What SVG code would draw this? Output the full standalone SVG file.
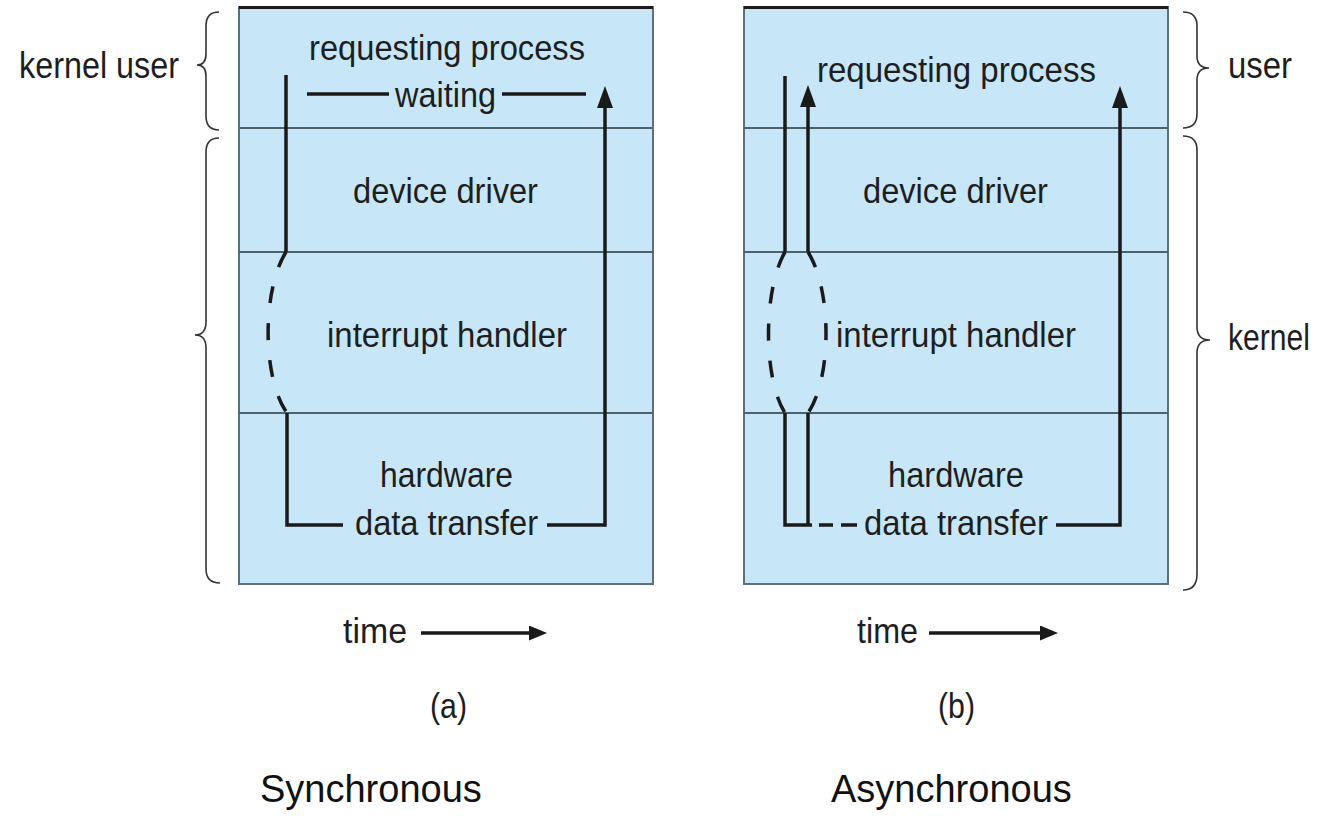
<svg xmlns="http://www.w3.org/2000/svg" width="1327" height="830" viewBox="0 0 1327 830">
<defs>
<style>
.box{fill:#c7e7f8;stroke:#5d6f78;stroke-width:2}
.top{stroke:#1b1b1b;stroke-width:3}
.div{stroke:#4e626c;stroke-width:2}
.t{font-family:"Liberation Sans",Arial,Helvetica,sans-serif;font-size:35px;fill:#1e1e1e}
.side{font-family:"Liberation Sans",Arial,Helvetica,sans-serif;font-size:36px;fill:#1e1e1e}
.cap{font-family:"Liberation Sans",Arial,Helvetica,sans-serif;font-size:38px;fill:#111}
.ln{fill:none;stroke:#1a1a1a;stroke-width:3.5}
.dash{fill:none;stroke:#1a1a1a;stroke-width:3.5;stroke-dasharray:17 20}
.brace{fill:none;stroke:#333;stroke-width:1.6}
</style>
<marker id="ah" markerUnits="userSpaceOnUse" markerWidth="24" markerHeight="16" refX="0" refY="8" orient="auto" viewBox="0 0 24 16">
<path d="M0,0 L22,8 L0,16 z" fill="#1a1a1a"/>
</marker>
<marker id="ahs" markerUnits="userSpaceOnUse" markerWidth="19" markerHeight="15" refX="0" refY="7.5" orient="auto" viewBox="0 0 19 15">
<path d="M0,0 L18,7.5 L0,15 z" fill="#1a1a1a"/>
</marker>
</defs>
<rect width="1327" height="830" fill="#ffffff"/>

<g id="panel-a">
<rect class="box" x="239" y="7" width="414" height="577"/>
<line class="top" x1="239" y1="7.5" x2="653" y2="7.5"/>
<line class="div" x1="239" y1="128" x2="653" y2="128"/>
<line class="div" x1="239" y1="252" x2="653" y2="252"/>
<line class="div" x1="239" y1="413" x2="653" y2="413"/>
</g>
<g id="a-requesting"><text class="t" x="309" y="60" textLength="276" lengthAdjust="spacingAndGlyphs">requesting process</text>
<text class="t" x="395" y="107" textLength="101" lengthAdjust="spacingAndGlyphs">waiting</text></g>
<g id="a-driver"><text class="t" x="353" y="203" textLength="185" lengthAdjust="spacingAndGlyphs">device driver</text></g>
<g id="a-interrupt"><text class="t" x="327" y="347" textLength="240" lengthAdjust="spacingAndGlyphs">interrupt handler</text></g>
<g id="a-hardware"><text class="t" x="380" y="487" textLength="133" lengthAdjust="spacingAndGlyphs">hardware</text>
<text class="t" x="355" y="535" textLength="183" lengthAdjust="spacingAndGlyphs">data transfer</text></g>
<g id="a-labels">
<text class="side" x="19" y="78" textLength="160" lengthAdjust="spacingAndGlyphs">kernel user</text>
<path class="brace" d="M219,12 Q206,12 206,26 L206,54 Q206,65 197,65 Q206,65 206,76 L206,116 Q206,130 219,130"/>
<path class="brace" d="M219,138 Q206,138 206,152 L206,322 Q206,335 195,335 Q206,335 206,348 L206,569 Q206,583 220,583"/>
<text class="t" x="343" y="643" textLength="64" lengthAdjust="spacingAndGlyphs">time</text>
<text class="t" x="430" y="718" textLength="37" lengthAdjust="spacingAndGlyphs">(a)</text>
<text class="cap" x="260" y="802">Synchronous</text>
</g>

<g id="panel-b">
<rect class="box" x="744" y="7" width="424" height="577"/>
<line class="top" x1="744" y1="7.5" x2="1168" y2="7.5"/>
<line class="div" x1="744" y1="128" x2="1168" y2="128"/>
<line class="div" x1="744" y1="252" x2="1168" y2="252"/>
<line class="div" x1="744" y1="413" x2="1168" y2="413"/>
</g>
<g id="b-requesting"><text class="t" x="817" y="82" textLength="279" lengthAdjust="spacingAndGlyphs">requesting process</text></g>
<g id="b-driver"><text class="t" x="863" y="203" textLength="185" lengthAdjust="spacingAndGlyphs">device driver</text></g>
<g id="b-interrupt"><text class="t" x="836" y="347" textLength="240" lengthAdjust="spacingAndGlyphs">interrupt handler</text></g>
<g id="b-hardware"><text class="t" x="888" y="487" textLength="136" lengthAdjust="spacingAndGlyphs">hardware</text>
<text class="t" x="864" y="535" textLength="184" lengthAdjust="spacingAndGlyphs">data transfer</text></g>
<g id="b-labels">
<text class="side" x="1228" y="78" textLength="64" lengthAdjust="spacingAndGlyphs">user</text>
<path class="brace" d="M1183,12 Q1197,12 1197,26 L1197,56 Q1197,68 1209,68 Q1197,68 1197,80 L1197,114 Q1197,128 1183,128"/>
<path class="brace" d="M1183,136 Q1197,136 1197,150 L1197,327 Q1197,340 1210,340 Q1197,340 1197,353 L1197,574 Q1197,590 1183,590"/>
<text class="side" x="1228" y="350" textLength="82" lengthAdjust="spacingAndGlyphs">kernel</text>
<text class="t" x="857" y="643" textLength="61" lengthAdjust="spacingAndGlyphs">time</text>
<text class="t" x="938" y="718" textLength="37" lengthAdjust="spacingAndGlyphs">(b)</text>
<text class="cap" x="831" y="802">Asynchronous</text>
</g>

<g id="connectors">
<line class="ln" x1="307" y1="94" x2="389" y2="94"/>
<line class="ln" x1="502" y1="94" x2="586" y2="94"/>
<path class="ln" d="M286,75 V252"/>
<path class="dash" d="M286,252 C262,290 262,378 287,413"/>
<path class="ln" d="M287,413 V525 H343"/>
<path class="ln" d="M547,525 H605 V108" marker-end="url(#ah)"/>
<line class="ln" x1="421" y1="633" x2="529" y2="633" marker-end="url(#ahs)"/>

<path class="ln" d="M785,76 V252"/>
<path class="ln" d="M808,252 V107" marker-end="url(#ah)"/>
<path class="dash" d="M785,252 C763,290 763,378 785,413"/>
<path class="dash" d="M808,252 C832,290 832,378 808,413"/>
<path class="ln" d="M785,413 V525 H812"/>
<path class="ln" d="M808,413 V525"/>
<path class="ln" d="M819,525 H833 M841,525 H857"/>
<path class="ln" d="M1056,525 H1120 V108" marker-end="url(#ah)"/>
<line class="ln" x1="929" y1="633" x2="1040" y2="633" marker-end="url(#ahs)"/>
</g>
</svg>
